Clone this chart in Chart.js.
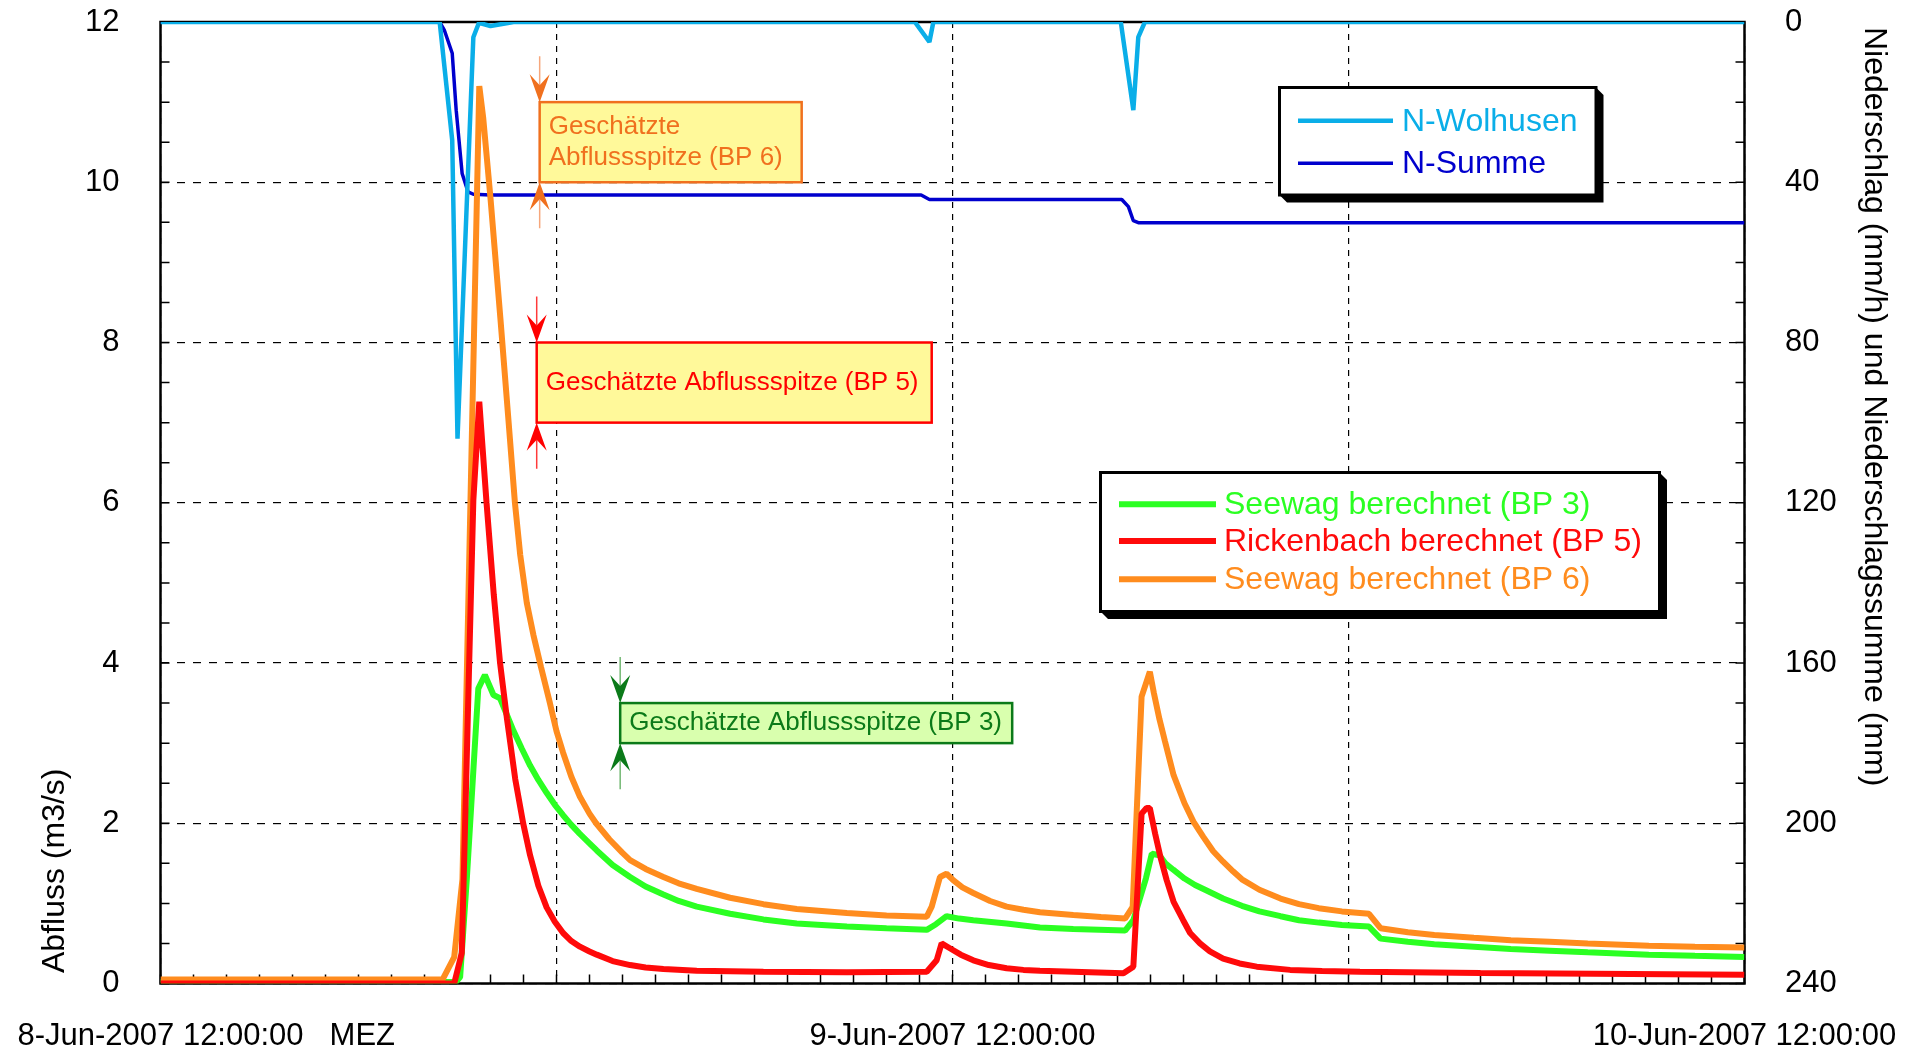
<!DOCTYPE html>
<html>
<head>
<meta charset="utf-8">
<title>Abfluss und Niederschlag</title>
<script src="https://cdn.jsdelivr.net/npm/chart.js@4.4.0/dist/chart.umd.min.js"></script>
<style>
  html, body { margin: 0; padding: 0; background: #fff; }
  #wrap { width: 1908px; height: 1045px; }
</style>
</head>
<body>
<div id="wrap"><canvas id="abfluss" width="1908" height="1045"></canvas></div>
<script>
// Hydrograph: computed discharge at three points plus rainfall (right axis, inverted)

const FONT = "'Liberation Sans', Arial, Helvetica, sans-serif";
Chart.defaults.font.family = FONT;
Chart.defaults.color = '#000';

// time axis in hours after 8-Jun-2007 12:00 MEZ
const xTickHours = [0, 12, 24, 36, 48];
const xTickLabels = ['8-Jun-2007 12:00:00', '', '9-Jun-2007 12:00:00', '', '10-Jun-2007 12:00:00'];

// Seewag berechnet (BP 3), m3/s
const hrsBP3 = [0, 8.95, 9.08, 9.28, 9.63, 9.83, 10.09, 10.29, 10.69, 10.95, 11.2, 11.45, 11.7, 11.95, 12.2, 12.45,
  12.7, 13.0, 13.22, 13.7, 14.23, 14.7, 15.24, 15.7, 16.25, 17.26, 18.27, 19.28, 20.8, 22.0, 23.22,
  23.5, 23.82, 24.2, 24.63, 25.64, 26.65, 27.66, 29.23, 29.48, 29.86, 30.04, 30.27, 30.45, 30.69, 31.03,
  31.35, 31.7, 32.2, 32.77, 33.3, 33.94, 34.5, 35.1, 35.8, 36.62, 36.97, 37.8, 38.6, 39.8, 40.92,
  42.1, 43.25, 45.1, 46.5, 48];
const qBP3 = [0.02, 0.02, 0.08, 1.29, 3.68, 3.85, 3.6, 3.56, 3.16, 2.93, 2.72, 2.54, 2.38, 2.23, 2.1, 1.98,
  1.87, 1.75, 1.66, 1.48, 1.33, 1.21, 1.11, 1.03, 0.96, 0.87, 0.8, 0.75, 0.71, 0.69, 0.67,
  0.74, 0.84, 0.81, 0.79, 0.75, 0.7, 0.68, 0.66, 0.79, 1.31, 1.62, 1.6, 1.5, 1.42, 1.31,
  1.23, 1.16, 1.06, 0.97, 0.9, 0.84, 0.79, 0.76, 0.73, 0.71, 0.56, 0.52, 0.49, 0.46, 0.43,
  0.41, 0.39, 0.36, 0.345, 0.33];

// Rickenbach berechnet (BP 5), m3/s
const hrsBP5 = [0, 8.9, 9.13, 9.48, 9.66, 9.88, 10.1, 10.29, 10.5, 10.75, 10.99, 11.2, 11.45, 11.7, 11.95,
  12.2, 12.45, 12.71, 13.0, 13.22, 13.7, 14.23, 14.7, 15.24, 16.25, 18.27, 20.8, 23.22, 23.52, 23.67,
  23.92, 24.25, 24.63, 25.1, 25.64, 26.15, 26.65, 29.18, 29.48, 29.73, 29.88, 29.98, 30.14, 30.3, 30.49,
  30.7, 30.99, 31.2, 31.5, 31.8, 32.2, 32.7, 33.22, 34.23, 35.2, 36.35, 40, 48];
const qBP5 = [0, 0, 0.38, 6.03, 7.26, 6.0, 4.85, 4.0, 3.3, 2.55, 2.0, 1.6, 1.22, 0.95, 0.77,
  0.63, 0.53, 0.46, 0.4, 0.36, 0.28, 0.23, 0.2, 0.18, 0.16, 0.147, 0.14, 0.147, 0.29, 0.5,
  0.44, 0.36, 0.29, 0.23, 0.19, 0.17, 0.16, 0.127, 0.21, 2.12, 2.19, 2.19, 1.87, 1.58, 1.29,
  1.02, 0.79, 0.63, 0.5, 0.4, 0.31, 0.25, 0.21, 0.17, 0.155, 0.147, 0.13, 0.11];

// Seewag berechnet (BP 6), m3/s
const hrsBP6 = [0, 8.55, 8.9, 9.15, 9.66, 9.78, 10.0, 10.3, 10.55, 10.74, 10.9, 11.1, 11.3, 11.53, 11.8,
  12.0, 12.2, 12.45, 12.71, 13.0, 13.2, 13.6, 14.0, 14.23, 14.7, 15.24, 15.7, 16.25, 17.26, 18.27,
  19.28, 20.8, 22.0, 23.22, 23.37, 23.62, 23.82, 24.02, 24.3, 24.63, 25.14, 25.64, 26.15, 26.65, 27.66,
  28.5, 29.23, 29.46, 29.73, 29.98, 30.1, 30.27, 30.44, 30.7, 31.03, 31.3, 31.6, 31.9, 32.2, 32.5,
  32.77, 33.3, 33.94, 34.5, 35.1, 35.8, 36.62, 36.97, 37.8, 38.6, 39.8, 40.92, 42.1, 43.25, 45.1,
  46.5, 48];
const qBP6 = [0.05, 0.05, 0.33, 1.3, 11.2, 10.8, 9.8, 8.3, 7.0, 6.0, 5.35, 4.75, 4.35, 3.95, 3.5,
  3.15, 2.88, 2.58, 2.33, 2.12, 2.0, 1.8, 1.63, 1.54, 1.43, 1.33, 1.25, 1.18, 1.07, 0.99,
  0.93, 0.88, 0.85, 0.834, 0.96, 1.33, 1.37, 1.29, 1.2, 1.13, 1.03, 0.96, 0.92, 0.89, 0.855,
  0.83, 0.81, 0.955, 3.58, 3.89, 3.63, 3.3, 3.02, 2.6, 2.25, 2.02, 1.83, 1.65, 1.52, 1.4,
  1.3, 1.17, 1.06, 0.99, 0.94, 0.9, 0.87, 0.69, 0.64, 0.605, 0.57, 0.54, 0.52, 0.5, 0.47,
  0.46, 0.45];

// Niederschlag Wolhusen, mm/h
const hrsWolhusen = [0, 8.46, 8.84, 9.0, 9.48, 9.65, 10.0, 10.35, 10.7, 22.86, 23.3, 23.42, 29.1, 29.48, 29.63, 29.83, 48];
const nWolhusen = [0, 0, 29.5, 104, 3.8, 0.2, 1.0, 0.5, 0, 0, 5.0, 0, 0, 22, 3.8, 0, 0];

// Niederschlagssumme, mm
const hrsSumme = [0, 8.46, 8.6, 8.84, 8.96, 9.14, 9.32, 9.48, 10.0, 23.05, 23.3, 29.13, 29.33, 29.48, 29.63, 48];
const nSumme = [0, 0, 2.0, 7.8, 22, 37.8, 42.4, 43.0, 43.2, 43.2, 44.3, 44.3, 46.1, 49.6, 50.1, 50.1];

// estimated peaks (lower / upper bound) and where they are marked on the time axis
const peakText = [['Geschätzte', 'Abflussspitze (BP 6)'], ['Geschätzte Abflussspitze (BP 5)'], ['Geschätzte Abflussspitze (BP 3)']];
const peakHour = [11.49, 11.4, 13.93];
const peakLow = [10, 7, 3];
const peakHigh = [11, 8, 3.5];

const peakStyle = [
  { width: 262, line: '#F0701E', fill: '#FFF99A', shaft: '#F6A77C' },
  { width: 395, line: '#FF0000', fill: '#FFF99A', shaft: '#FF3A3A' },
  { width: 392, line: '#0B7A19', fill: '#D9FFAE', shaft: '#74B874' },
];

const GREEN = '#2BFF22', RED = '#FF0A0A', ORANGE = '#FF8C1E', CYAN = '#0AAEE8', BLUE = '#0000CD';

const toPoints = (hrs, vals) => hrs.map((h, i) => ({ x: h, y: vals[i] }));

const legendGroups = [
  { box: [1279.5, 87.5, 316.5, 107.5], lineX: [1298, 1393], textX: 1402, rows: [120.7, 163.3],
    labels: ['N-Wolhusen', 'N-Summe'] },
  { box: [1100.5, 472.5, 559, 139], lineX: [1119, 1216], textX: 1224, rows: [504.3, 541, 579.3],
    labels: ['Seewag berechnet (BP 3)', 'Rickenbach berechnet (BP 5)', 'Seewag berechnet (BP 6)'] },
];

function arrowHead(ctx, x, tipY, dir) {
  // dir = 1 points down, -1 points up
  ctx.beginPath();
  ctx.moveTo(x, tipY);
  ctx.lineTo(x - 10, tipY - dir * 28);
  ctx.lineTo(x, tipY - dir * 17);
  ctx.lineTo(x + 10, tipY - dir * 28);
  ctx.closePath();
  ctx.fill();
}

function shadowBox(ctx, x, y, w, h) {
  const s = 7.5;
  ctx.fillStyle = '#000';
  ctx.beginPath();
  ctx.moveTo(x + w, y);
  ctx.lineTo(x + w + s, y + s);
  ctx.lineTo(x + w + s, y + h + s);
  ctx.lineTo(x + s, y + h + s);
  ctx.lineTo(x, y + h);
  ctx.closePath();
  ctx.fill();
  ctx.fillStyle = '#fff';
  ctx.fillRect(x, y, w, h);
  ctx.lineWidth = 3;
  ctx.strokeStyle = '#000';
  ctx.strokeRect(x, y, w, h);
}

const chartDecor = {
  id: 'chartDecor',
  beforeDatasetsDraw(chart) {
    const { ctx, chartArea: a, scales } = chart;
    ctx.save();
    // minor ticks, pointing into the plot
    ctx.strokeStyle = '#000';
    ctx.lineWidth = 1.5;
    ctx.beginPath();
    for (let v = 0; v <= 12; v += 0.5) {
      const y = scales.y.getPixelForValue(v);
      ctx.moveTo(a.left, y); ctx.lineTo(a.left + 9, y);
    }
    for (let v = 0; v <= 240; v += 10) {
      const y = scales.y2.getPixelForValue(v);
      ctx.moveTo(a.right - 9, y); ctx.lineTo(a.right, y);
    }
    for (let h = 0; h <= 48; h += 1) {
      const x = scales.x.getPixelForValue(h);
      ctx.moveTo(x, a.bottom); ctx.lineTo(x, a.bottom - 9);
    }
    ctx.stroke();
    ctx.lineWidth = 2.5;
    ctx.strokeRect(a.left, a.top, a.right - a.left, a.bottom - a.top);
    ctx.restore();
  },
  afterDatasetsDraw(chart) {
    const { ctx, scales } = chart;
    ctx.save();

    // estimated peak boxes with arrows
    peakText.forEach((lines, i) => {
      const st = peakStyle[i];
      const x = scales.x.getPixelForValue(peakHour[i]);
      const top = scales.y.getPixelForValue(peakHigh[i]);
      const bottom = scales.y.getPixelForValue(peakLow[i]);
      ctx.fillStyle = st.fill;
      ctx.fillRect(x, top, st.width, bottom - top);
      ctx.lineWidth = 2.5;
      ctx.strokeStyle = st.line;
      ctx.strokeRect(x, top, st.width, bottom - top);

      ctx.font = '26px ' + FONT;
      ctx.fillStyle = st.line;
      ctx.textAlign = 'left';
      ctx.textBaseline = 'middle';
      const mid = (top + bottom) / 2;
      lines.forEach((t, k) => {
        ctx.fillText(t, x + 9, mid + (k - (lines.length - 1) / 2) * 31);
      });

      ctx.strokeStyle = st.shaft;
      ctx.lineWidth = 1.5;
      ctx.beginPath();
      ctx.moveTo(x, top - 46); ctx.lineTo(x, top - 17);
      ctx.moveTo(x, bottom + 46); ctx.lineTo(x, bottom + 17);
      ctx.stroke();
      ctx.fillStyle = st.line;
      arrowHead(ctx, x, top, 1);
      arrowHead(ctx, x, bottom, -1);
    });

    // legends
    legendGroups.forEach(g => {
      const [bx, by, bw, bh] = g.box;
      shadowBox(ctx, bx, by, bw, bh);
      ctx.font = '32px ' + FONT;
      ctx.textAlign = 'left';
      ctx.textBaseline = 'middle';
      g.labels.forEach((lab, k) => {
        const ds = chart.data.datasets.find(d => d.label === lab);
        const y = g.rows[k];
        ctx.strokeStyle = ds.borderColor;
        ctx.lineWidth = ds.borderWidth;
        ctx.beginPath();
        ctx.moveTo(g.lineX[0], y); ctx.lineTo(g.lineX[1], y);
        ctx.stroke();
        ctx.fillStyle = ds.borderColor;
        ctx.fillText(lab, g.textX, y + 1);
      });
    });
    ctx.restore();
  },
  afterDraw(chart) {
    const { ctx, scales } = chart;
    ctx.save();
    ctx.fillStyle = '#000';
    ctx.font = '32px ' + FONT;
    ctx.textBaseline = 'middle';
    ctx.textAlign = 'left';

    ctx.save();
    ctx.translate(55, 973);
    ctx.rotate(-Math.PI / 2);
    ctx.fillText('Abfluss (m3/s)', 0, 0);
    ctx.restore();

    ctx.save();
    ctx.translate(1874, 27);
    ctx.rotate(Math.PI / 2);
    ctx.fillText('Niederschlag (mm/h) und Niederschlagssumme (mm)', 0, 0);
    ctx.restore();

    // time zone after the first date label
    const items = scales.x.getLabelItems ? scales.x.getLabelItems() : [];
    const first = items.find(it => it.label === xTickLabels[0]);
    if (first) {
      const [tx, ty] = first.options.translation;
      ctx.font = first.font.string;
      ctx.textBaseline = first.options.textBaseline;
      ctx.fillText('MEZ', tx + ctx.measureText(first.label).width / 2 + 26, ty + first.textOffset);
    }
    ctx.restore();
  }
};

const line = (label, hrs, vals, color, width, axis, order) => ({
  label, data: toPoints(hrs, vals), borderColor: color, backgroundColor: color,
  borderWidth: width, borderJoinStyle: 'bevel', yAxisID: axis, order,
  pointRadius: 0, tension: 0, fill: false,
});

// tick marks are hidden; their length only sets the gap between axis and labels
const hiddenTicks = (len) => ({ drawTicks: true, tickLength: len, tickColor: 'rgba(0,0,0,0)' });

new Chart(document.getElementById('abfluss'), {
  type: 'line',
  data: {
    datasets: [
      line('Rickenbach berechnet (BP 5)', hrsBP5, qBP5, RED, 6, 'y', 1),
      line('Seewag berechnet (BP 6)', hrsBP6, qBP6, ORANGE, 6, 'y', 2),
      line('Seewag berechnet (BP 3)', hrsBP3, qBP3, GREEN, 6, 'y', 3),
      line('N-Wolhusen', hrsWolhusen, nWolhusen, CYAN, 4.5, 'y2', 4),
      line('N-Summe', hrsSumme, nSumme, BLUE, 3.5, 'y2', 5),
    ]
  },
  options: {
    responsive: false,
    devicePixelRatio: 1,
    animation: false,
    layout: { padding: { top: 22, left: 0, right: 0, bottom: 0 } },
    plugins: { legend: { display: false }, tooltip: { enabled: false } },
    scales: {
      x: {
        type: 'linear', position: 'bottom', min: 0, max: 48,
        afterBuildTicks: s => { s.ticks = xTickHours.map(v => ({ value: v })); },
        afterFit: s => { s.height = 61.5; },
        ticks: {
          autoSkip: false, maxRotation: 0, minRotation: 0, padding: 0,
          font: { size: 31 }, color: '#000',
          callback: (v, i) => xTickLabels[i] ?? '',
        },
        grid: { color: '#000', lineWidth: 1.2, ...hiddenTicks(34) },
        border: { display: false, dash: [6, 6] },
      },
      y: {
        position: 'left', min: 0, max: 12,
        afterFit: s => { s.width = 160.5; },
        ticks: { stepSize: 2, padding: 0, font: { size: 31 }, color: '#000' },
        grid: { color: '#000', lineWidth: 1.2, ...hiddenTicks(41) },
        border: { display: false, dash: [8, 8] },
      },
      y2: {
        position: 'right', min: 0, max: 240, reverse: true,
        afterFit: s => { s.width = 163.5; },
        ticks: { stepSize: 40, padding: 0, font: { size: 31 }, color: '#000' },
        grid: { drawOnChartArea: false, ...hiddenTicks(40.5) },
        border: { display: false },
      },
    }
  },
  plugins: [chartDecor]
});
</script>
</body>
</html>
